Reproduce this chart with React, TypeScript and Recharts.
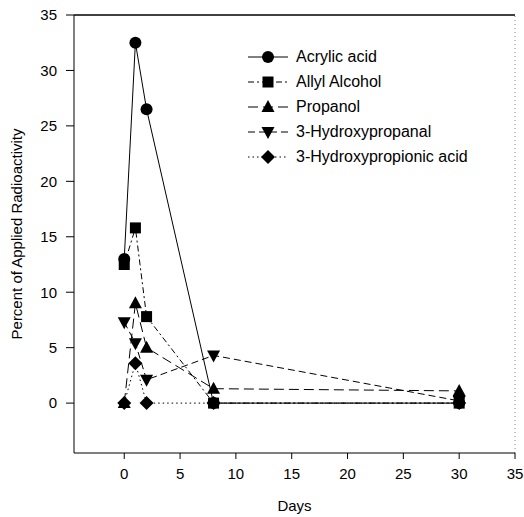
import React from 'react';
import { LineChart, Line, XAxis, YAxis, ReferenceLine } from 'recharts';

const days = [0, 1, 2, 8, 30];
const acrylicAcid = [13.0, 32.5, 26.5, 0, 0];
const allylAlcohol = [12.5, 15.8, 7.8, 0, 0];
const propanol = [0, 9.0, 5.0, 1.3, 1.1];
const hydroxypropanal = [7.3, 5.4, 2.1, 4.3, 0.2];
const hydroxypropionicAcid = [0, 3.6, 0, 0, 0];
const axisTicks = [0, 5, 10, 15, 20, 25, 30, 35];

const data = days.map((d, i) => ({
  day: d,
  acrylic: acrylicAcid[i],
  allyl: allylAlcohol[i],
  propanol: propanol[i],
  hpal: hydroxypropanal[i],
  hpa: hydroxypropionicAcid[i],
}));

type Shape = 'circle' | 'square' | 'up' | 'down' | 'diamond';

const marker = (shape: Shape, cx: number, cy: number, key?: any) => {
  switch (shape) {
    case 'circle':
      return <circle key={key} cx={cx} cy={cy} r={6} fill="#000" />;
    case 'square':
      return <rect key={key} x={cx - 5.5} y={cy - 5.5} width={11} height={11} fill="#000" />;
    case 'up':
      return <polygon key={key} points={`${cx},${cy - 7} ${cx - 6.5},${cy + 5} ${cx + 6.5},${cy + 5}`} fill="#000" />;
    case 'down':
      return <polygon key={key} points={`${cx},${cy + 7} ${cx - 6.5},${cy - 5} ${cx + 6.5},${cy - 5}`} fill="#000" />;
    default:
      return <polygon key={key} points={`${cx},${cy - 7} ${cx + 7},${cy} ${cx},${cy + 7} ${cx - 7},${cy}`} fill="#000" />;
  }
};

const series = [
  { key: 'acrylic', name: 'Acrylic acid', shape: 'circle' as Shape, dash: undefined },
  { key: 'allyl', name: 'Allyl Alcohol', shape: 'square' as Shape, dash: '6 3 2 3' },
  { key: 'propanol', name: 'Propanol', shape: 'up' as Shape, dash: '10 5' },
  { key: 'hpal', name: '3-Hydroxypropanal', shape: 'down' as Shape, dash: '7 4' },
  { key: 'hpa', name: '3-Hydroxypropionic acid', shape: 'diamond' as Shape, dash: '1.5 3' },
];

const font = 'Arial, "Liberation Sans", sans-serif';

// legend drawn as an overlay so it doesn't take room from the plot
const ChartLegend = () => (
  <div style={{ position: 'absolute', left: 246, top: 44, fontFamily: font, fontSize: 16, color: '#000' }}>
    {series.map((s) => (
      <div key={s.key} style={{ display: 'flex', alignItems: 'center', height: 25 }}>
        <svg width={44} height={16} style={{ marginRight: 6 }}>
          <line x1={2} y1={8} x2={42} y2={8} stroke="#000" strokeWidth={1} strokeDasharray={s.dash} />
          {marker(s.shape, 22, 8)}
        </svg>
        <span>{s.name}</span>
      </div>
    ))}
  </div>
);

export default function App() {
  return (
    <div style={{ position: 'absolute', left: 0, top: 0, width: 524, height: 517, background: '#fff' }}>
      <LineChart width={524} height={517} data={data} margin={{ top: 15, right: 9, left: 0, bottom: 0 }}>
        <XAxis
          dataKey="day"
          type="number"
          domain={[-4.5, 35]}
          ticks={axisTicks}
          allowDataOverflow
          height={64}
          tickSize={6}
          stroke="#000"
          tick={{ fill: '#000', fontSize: 15, fontFamily: font }}
          tickMargin={9}
          label={{ value: 'Days', position: 'insideBottom', offset: 6, style: { fill: '#000', fontSize: 15, fontFamily: font } }}
        />
        <YAxis
          type="number"
          domain={[-4.5, 35]}
          ticks={axisTicks}
          allowDataOverflow
          width={74}
          tickSize={8}
          stroke="#000"
          tick={{ fill: '#000', fontSize: 15, fontFamily: font }}
          tickMargin={9}
          label={{
            value: 'Percent of Applied Radioactivity',
            angle: -90,
            position: 'insideLeft',
            offset: 17,
            style: { textAnchor: 'middle', fill: '#000', fontSize: 15, fontFamily: font },
          }}
        />
        <ReferenceLine y={35} stroke="#000" strokeWidth={1.5} />
        <ReferenceLine x={35} stroke="#888" strokeDasharray="1 3" />
        {series.map((s) => (
          <Line
            key={s.key}
            dataKey={s.key}
            name={s.name}
            type="linear"
            stroke="#000"
            strokeWidth={1}
            strokeDasharray={s.dash}
            dot={(p: any) => marker(s.shape, p.cx, p.cy, `${s.key}-${p.index}`)}
            activeDot={false}
            isAnimationActive={false}
          />
        ))}
      </LineChart>
      <ChartLegend />
    </div>
  );
}
